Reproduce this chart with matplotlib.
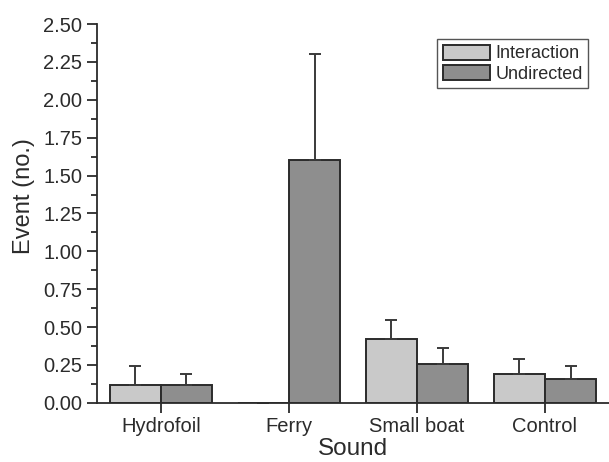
import numpy as np
import matplotlib.pyplot as plt
from matplotlib.ticker import MultipleLocator, FormatStrFormatter

plt.rcParams['font.family'] = ['Liberation Sans', 'DejaVu Sans']

sounds = ['Hydrofoil', 'Ferry', 'Small boat', 'Control']
interaction = [0.12, 0.0, 0.42, 0.19]
interaction_err = [0.12, 0.0, 0.125, 0.10]
undirected = [0.12, 1.60, 0.255, 0.155]
undirected_err = [0.07, 0.70, 0.11, 0.085]

ink = '#2b2b2b'
x = np.arange(len(sounds))
w = 0.4

fig = plt.figure(figsize=(6.09, 4.62), dpi=100)
ax = fig.add_axes([0.159, 0.128, 0.841, 0.820])

ekw = dict(ecolor='#3a3a3a', elinewidth=1.4, capsize=4, capthick=1.4)
ax.bar(x - w / 2, interaction, w, color='#c9c9c9', edgecolor=ink, linewidth=1.4,
       yerr=[np.zeros(4), interaction_err], error_kw=ekw, label='Interaction', zorder=2)
ax.bar(x + w / 2, undirected, w, color='#8e8e8e', edgecolor=ink, linewidth=1.4,
       yerr=[np.zeros(4), undirected_err], error_kw=ekw, label='Undirected', zorder=2)

ax.set_xlim(-0.5, 3.5)
ax.set_ylim(0, 2.5)
ax.set_xticks(x)
ax.set_xticklabels(sounds)
ax.yaxis.set_major_locator(MultipleLocator(0.25))
ax.yaxis.set_minor_locator(MultipleLocator(0.125))
ax.yaxis.set_major_formatter(FormatStrFormatter('%.2f'))

for s in ['top', 'right']:
    ax.spines[s].set_visible(False)
for s in ['left', 'bottom']:
    ax.spines[s].set_color(ink)
    ax.spines[s].set_linewidth(1.3)

ax.tick_params(axis='both', which='major', direction='out', length=7, width=1.3,
               color=ink, labelcolor=ink, labelsize=14.5)
ax.tick_params(axis='y', which='minor', direction='out', length=4, width=1.3, color=ink)

ax.set_xlabel('Sound', fontsize=17.5, color=ink, labelpad=1)
ax.set_ylabel('Event (no.)', fontsize=17, color=ink, labelpad=6)
ax.yaxis.label.set_y(0.545)

leg = ax.legend(loc='upper right', bbox_to_anchor=(0.959, 0.960), borderaxespad=0,
                fontsize=13, frameon=True, fancybox=False, handlelength=2.6,
                handleheight=0.9, handletextpad=0.3, borderpad=0.3, labelspacing=0.15)
leg.get_frame().set_edgecolor(ink)
leg.get_frame().set_linewidth(1.0)
for t in leg.get_texts():
    t.set_color(ink)

plt.savefig('out.png', dpi=100)
